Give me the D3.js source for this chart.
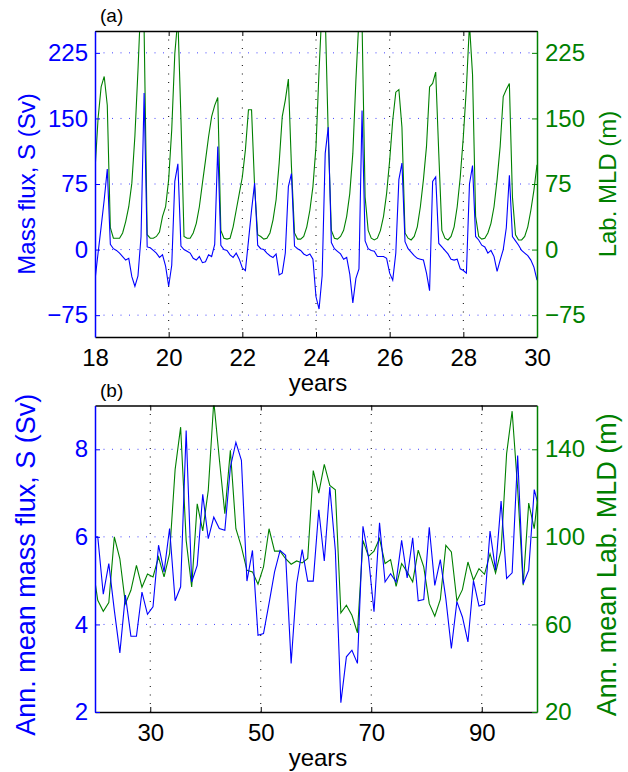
<!DOCTYPE html>
<html>
<head>
<meta charset="utf-8">
<script src="https://cdn.jsdelivr.net/npm/d3@7"></script>
<style>
	body { margin: 0; background: #fff; }
	text { font-family: "Liberation Sans", Arial, Helvetica, sans-serif; }
</style>
</head>
<body>
<div id="chart"></div>
<script>

///////////////////////////////////////////////////////////////////////
// panel (a): monthly values, years 18 .. 30

const a_start_year = 18;

const mass_flux_monthly = [
	-35,  -4,  26,  57,  92,   6,   1,  -1,  -4,  -8, -12, -10,	// 18
	-31, -42, -30,  15, 179,   3,   2,  -1,  -4,  -9,  -6, -19,	// 19
	-42, -18,  78,  98,   4,   0,  -2,  -4, -10, -12,  -8, -15,	// 20
	-14,  -6,  -8,   6, 118,   5,   0,  -1,  -6,  -9,  -4, -11,	// 21
	-21, -24,  10,  45,  76,   5,   1,   0,  -4,  -7,  -9,  -5,	// 22
	-29, -27,  -4,  72,  87,   4,   1,  -1,  -5,  -7,  -5, -11,	// 23
	-54, -68, -30, 110, 140,   8,   1,  -2,  -5, -11,  -9, -28,	// 24
	-61, -33, -22, 159,  10,   1,  -1,  -2,  -8,  -8,  -8, -10,	// 25
	-27, -35,  -4,  80,  99,   9,   1,  -3,  -7, -10, -11, -12,	// 26
	-27, -47,  78,  83,   7,   3,  -1,  -5, -11, -12, -11, -22,	// 27
	-24, -27,  75,  96,  15,  11,   5,   3,  -4,  -1,  -8, -25,	// 28
	-12,   0,  25,  85,  15,  10,   5,  -1,  -4,  -7, -12, -20,	// 29
	-35																// 30
];

const mld_monthly = [
	 91, 150, 186, 198, 165,  25,  13,  13,  13,  19,  32,  49,	// 18
	 76, 130, 205, 290, 252,  17,  13,  13,  15,  20,  38,  49,	// 19
	 80, 137, 224, 265, 150,  15,  13,  13,  19,  30,  49,  76,	// 20
	102, 129, 152, 165, 174,  22,  13,  12,  13,  26,  45,  64,	// 21
	 83, 114, 160, 160,  72,  17,  15,  12,  13,  19,  34,  57,	// 22
	 99, 152, 171, 195,  95,  19,  12,  12,  15,  26,  45,  72,	// 23
	118, 205, 280, 270, 130,  22,  13,  12,  15,  22,  38,  64,	// 24
	110, 194, 265, 260,  60,  22,  13,  11,  13,  22,  38,  64,	// 25
	102, 148, 180, 183, 140,  19,  13,  11,  15,  26,  49,  80,	// 26
	118, 186, 190, 203, 110,  22,  13,  11,  15,  26,  49,  83,	// 27
	129, 185, 258, 200,  38,  15,  12,  13,  19,  30,  49,  80,	// 28
	118, 175, 183, 190,  60,  17,  11,  11,  15,  26,  45,  68,	// 29
	 97																// 30
];

const a_x_ticks = [ 18, 20, 22, 24, 26, 28, 30 ];
const a_y_ticks = [ -75, 0, 75, 150, 225 ];

///////////////////////////////////////////////////////////////////////
// panel (b): annual means, drawn at mid year, years 19 .. 100

const ann_first_year = 19;

const ann_mass_flux = [
	6.00,																// 19
	6.00, 4.69, 5.39, 4.32, 3.35, 4.67, 3.73, 3.73, 4.74, 4.23,			// 20
	4.40, 5.81, 5.20, 6.19, 4.54, 4.86, 8.43, 4.97, 5.35, 6.97,			// 30
	5.96, 6.45, 6.19, 6.15, 7.59, 8.16, 7.75, 4.99, 5.69, 3.75,			// 40
	3.79, 4.48, 5.20, 5.69, 5.58, 3.11, 4.93, 5.71, 4.99, 4.99,			// 50
	6.62, 5.45, 7.14, 5.69, 2.21, 3.26, 3.41, 3.11, 6.24, 5.54,			// 60
	4.29, 6.32, 4.97, 5.16, 4.97, 5.92, 5.06, 5.98, 4.54, 4.57,			// 70
	6.22, 4.89, 5.48, 4.59, 3.45, 4.52, 4.17, 3.60, 5.00, 4.42,			// 80
	4.46, 6.13, 5.24, 6.82, 5.05, 5.18, 7.86, 4.93, 5.24, 7.08,			// 90
	6.59																// 100
];

const ann_mld = [
	88,																	// 19
	71,    66,    70,    100,   90,    69.5,  75.6,  87,    77,    83,		// 20
	81.7,  90.8,  81.7,  92.3,  130.7, 150.1, 98.4,  77.1,  115.1, 102.7,	// 30
	121.2, 162,   135.7, 110.6, 139.5, 103.7, 95.4,  84.7,  84,    78.4,	// 40
	86.3,  103.7, 93.5,  93.5,  90,    87.5,  89,    88.1,  90.1,  130.3,	// 50
	120,   133.1, 123.5, 121.5, 65.3,  68.8,  64.2,  56.2,  98.4,  91.1,	// 60
	93.5,  99.2,  87.8,  89.6,  77.4,  87.8,  84,    79.4,  93.9,  86.3,	// 70
	69.5,  63.8,  71.4,  96.1,  93.1,  70.7,  75.9,  88.5,  80.2,  85.5,	// 80
	82.9,  92.3,  83.5,  93.9,  138,   157.4, 122,   77.9,  115.4, 103.7,	// 90
	126.6																// 100
];

const b_x_ticks = [ 30, 50, 70, 90 ];
const b_left_ticks = [ 2, 4, 6, 8 ];
const b_right_ticks = [ 20, 60, 100, 140 ];

///////////////////////////////////////////////////////////////////////

const BLUE = "#0000ff";
const GREEN = "#008000";
const FONT = 24;

function draw_panel( svg, P )	{

	let g = svg.append( "g" );

	let x = d3.scaleLinear().domain( P.x_domain ).range( [ P.left, P.right ] );
	let yl = d3.scaleLinear().domain( P.yl_domain ).range( [ P.bottom, P.top ] );
	let yr = d3.scaleLinear().domain( P.yr_domain ).range( [ P.bottom, P.top ] );

	svg.append( "clipPath" )
		.attr( "id", P.id + "_clip" )
		.append( "rect" )
			.attr( "x", P.left )
			.attr( "y", P.top )
			.attr( "width", P.right - P.left )
			.attr( "height", P.bottom - P.top );

	// grid lines
	g.append( "g" )
		.selectAll( "line" )
		.data( P.x_ticks.filter( d => d > P.x_domain[ 0 ] && d < P.x_domain[ 1 ] ) )
		.join( "line" )
			.attr( "x1", d => x( d ) )
			.attr( "x2", d => x( d ) )
			.attr( "y1", P.top )
			.attr( "y2", P.bottom )
			.attr( "stroke", "#000" )
			.attr( "stroke-width", 1 )
			.attr( "stroke-dasharray", "1,7.5" );

	g.append( "g" )
		.selectAll( "line" )
		.data( P.yl_ticks.filter( d => d > P.yl_domain[ 0 ] && d < P.yl_domain[ 1 ] ) )
		.join( "line" )
			.attr( "x1", P.left )
			.attr( "x2", P.right )
			.attr( "y1", d => yl( d ) )
			.attr( "y2", d => yl( d ) )
			.attr( "stroke", BLUE )
			.attr( "stroke-opacity", 0.75 )
			.attr( "stroke-width", 1 )
			.attr( "stroke-dasharray", "1,7.5" );

	// data lines
	let line_l = d3.line()
		.x( d => x( d[ 0 ] ) )
		.y( d => yl( d[ 1 ] ) );
	let line_r = d3.line()
		.x( d => x( d[ 0 ] ) )
		.y( d => yr( d[ 1 ] ) );

	let lines = g.append( "g" )
		.attr( "clip-path", "url(#" + P.id + "_clip)" );

	lines.append( "path" )
		.datum( P.right_data )
		.attr( "fill", "none" )
		.attr( "stroke", GREEN )
		.attr( "stroke-width", 1.1 )
		.attr( "d", line_r );

	lines.append( "path" )
		.datum( P.left_data )
		.attr( "fill", "none" )
		.attr( "stroke", BLUE )
		.attr( "stroke-width", 1.1 )
		.attr( "d", line_l );

	// axes
	let ax_bottom = g.append( "g" )
		.attr( "transform", "translate(0," + P.bottom + ")" )
		.call(
			d3.axisBottom( x )
				.tickValues( P.x_ticks )
				.tickFormat( d3.format( "d" ) )
				.tickSize( -5 )
				.tickSizeOuter( 0 )
				.tickPadding( 12 )
		);
	style_axis( ax_bottom, "#000" );

	let ax_top = g.append( "g" )
		.attr( "transform", "translate(0," + P.top + ")" )
		.call(
			d3.axisTop( x )
				.tickValues( P.x_ticks )
				.tickFormat( "" )
				.tickSize( -5 )
				.tickSizeOuter( 0 )
		);
	style_axis( ax_top, "#000" );

	let ax_left = g.append( "g" )
		.attr( "transform", "translate(" + P.left + ",0)" )
		.call(
			d3.axisLeft( yl )
				.tickValues( P.yl_ticks )
				.tickFormat( d3.format( "d" ) )
				.tickSize( -5 )
				.tickSizeOuter( 0 )
				.tickPadding( 7 )
		);
	style_axis( ax_left, BLUE );

	let ax_right = g.append( "g" )
		.attr( "transform", "translate(" + P.right + ",0)" )
		.call(
			d3.axisRight( yr )
				.tickValues( P.yr_ticks )
				.tickFormat( d3.format( "d" ) )
				.tickSize( -5 )
				.tickSizeOuter( 0 )
				.tickPadding( 8 )
		);
	style_axis( ax_right, GREEN );

	// texts
	let cy = ( P.top + P.bottom ) / 2 + P.label_shift;

	g.append( "text" )
		.attr( "x", P.left + 5 )
		.attr( "y", P.top - 9 )
		.attr( "font-size", 19 )
		.attr( "fill", "#000" )
		.text( P.tag );

	g.append( "text" )
		.attr( "x", ( P.left + P.right ) / 2 + 2 )
		.attr( "y", P.bottom + 54 )
		.attr( "text-anchor", "middle" )
		.attr( "font-size", FONT )
		.attr( "fill", "#000" )
		.text( "years" );

	g.append( "text" )
		.attr( "transform", "translate(26," + cy + ") rotate(-90)" )
		.attr( "text-anchor", "middle" )
		.attr( "dominant-baseline", "central" )
		.attr( "font-size", P.label_font )
		.attr( "fill", BLUE )
		.text( P.left_label );

	g.append( "text" )
		.attr( "transform", "translate(607," + cy + ") rotate(-90)" )
		.attr( "text-anchor", "middle" )
		.attr( "dominant-baseline", "central" )
		.attr( "font-size", P.label_font )
		.attr( "fill", GREEN )
		.text( P.right_label );
}

function style_axis( ax, colour )	{

	ax.attr( "font-size", null ).attr( "font-family", null );
	ax.select( ".domain" )
		.attr( "stroke", colour )
		.attr( "stroke-width", 1.5 );
	ax.selectAll( ".tick line" )
		.attr( "stroke", colour )
		.attr( "stroke-width", 1 );
	ax.selectAll( ".tick text" )
		.attr( "fill", colour )
		.attr( "font-size", FONT );
}

///////////////////////////////////////////////////////////////////////

let svg = d3.select( "#chart" )
	.append( "svg" )
		.attr( "width", 628 )
		.attr( "height", 772 );

let a_flux = mass_flux_monthly.map( ( v, i ) => [ a_start_year + i / 12, v ] );
let a_mld = mld_monthly.map( ( v, i ) => [ a_start_year + i / 12, v ] );

draw_panel( svg, {
	id: "pa",
	tag: "(a)",
	left: 95, right: 537, top: 31, bottom: 337,
	x_domain: [ 18, 30 ],
	yl_domain: [ -100, 250 ],
	yr_domain: [ -100, 250 ],
	x_ticks: a_x_ticks,
	yl_ticks: a_y_ticks,
	yr_ticks: a_y_ticks,
	left_data: a_flux,
	right_data: a_mld,
	left_label: "Mass flux, S (Sv)",
	right_label: "Lab. MLD (m)",
	label_font: 24,
	label_shift: 0
} );

let b_flux = ann_mass_flux.map( ( v, i ) => [ ann_first_year + i + 0.5, v ] );
let b_mld = ann_mld.map( ( v, i ) => [ ann_first_year + i + 0.5, v ] );

draw_panel( svg, {
	id: "pb",
	tag: "(b)",
	left: 95, right: 537, top: 405.5, bottom: 712,
	x_domain: [ 20, 100 ],
	yl_domain: [ 2, 9 ],
	yr_domain: [ 20, 160 ],
	x_ticks: b_x_ticks,
	yl_ticks: b_left_ticks,
	yr_ticks: b_right_ticks,
	left_data: b_flux,
	right_data: b_mld,
	left_label: "Ann. mean mass flux, S (Sv)",
	right_label: "Ann. mean Lab. MLD (m)",
	label_font: 27,
	label_shift: 6
} );

</script>
</body>
</html>
